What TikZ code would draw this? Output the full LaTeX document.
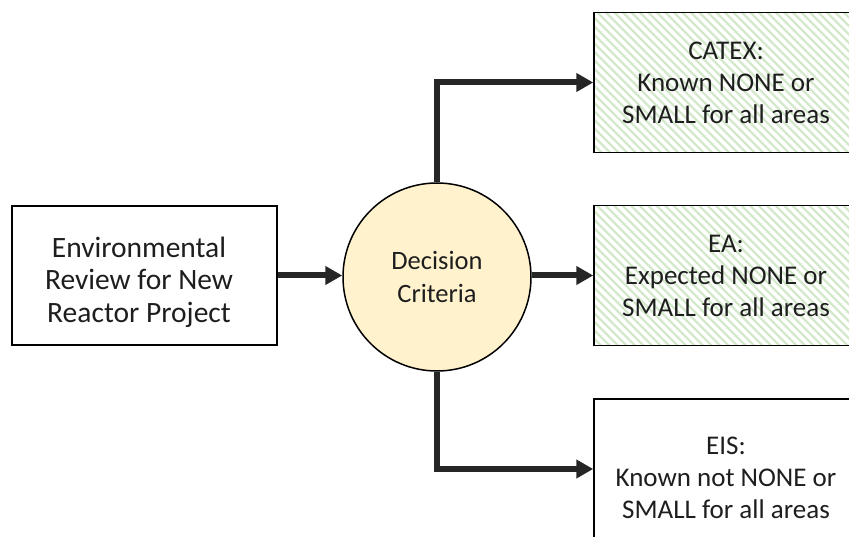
\documentclass[tikz,border=0pt]{standalone}
\usepackage{fontspec}
\setmainfont{Carlito}
\usetikzlibrary{arrows.meta}
\definecolor{hatchgreen}{RGB}{212,233,204}
\definecolor{critfill}{RGB}{255,242,204}
\definecolor{flowgray}{RGB}{38,38,38}
\definecolor{inkgray}{RGB}{30,30,30}
\begin{document}
\begin{tikzpicture}[x=1pt,y=-1pt,
  box/.style={draw=black, line width=1.5pt, minimum width=264pt, minimum height=140pt,
    inner sep=0pt, align=center, text=inkgray},
  outfont/.style={font=\fontsize{27}{32}\selectfont},
  hatchline/.style={draw=hatchgreen, line width=2.2pt},
  crit/.style={circle, draw=black, line width=1.5pt, fill=critfill, minimum size=188pt,
    inner sep=0pt, align=center, text=inkgray, font=\fontsize{26.5}{33}\selectfont},
  flow/.style={draw=flowgray, line width=6pt, -{Triangle[length=17pt,width=18pt]}}
]
\useasboundingbox (0,0) rectangle (849,537);
\clip (0,0) rectangle (849,537);

% diagonal green hatching behind the two lighter outcomes
\foreach \top in {12,205.5}{
  \begin{scope}
    \clip (594,\top) rectangle (858,\top+140);
    \foreach \k in {0,...,50}{
      \draw[hatchline] (594-150+8.5*\k,\top) -- ++(141,141);
    }
  \end{scope}
}

% project box and decision circle
\node[box, minimum width=265pt, minimum height=139pt] (proj) at (144.5,275.5) {};
\node[text=inkgray, align=center, font=\fontsize{29.5}{32.5}\selectfont] (projtext)
  at (139,282) {Environmental\\Review for New\\Reactor Project};
\node[crit] (dc) at (437,277) {Decision\\Criteria};

% outcome boxes
\node[box, outfont] (catex) at (726,82.5)
  {CATEX:\\Known NONE or\\SMALL for all areas};
\node[box, outfont] (ea) at (726,275.5)
  {EA:\\Expected NONE or\\SMALL for all areas};
\node[box] (eis) at (726,469) {};
\node[outfont, text=inkgray, align=center] (eistext) at (726,478)
  {EIS:\\Known not NONE or\\SMALL for all areas};

% connectors
\draw[flow] (proj.east) -- (proj.east -| dc.west);
\draw[flow] (dc.east |- ea.west) -- (ea.west);
\draw[flow] (dc.north) |- (catex.west);
\draw[flow] (dc.south) |- (eis.west);
\end{tikzpicture}
\end{document}
